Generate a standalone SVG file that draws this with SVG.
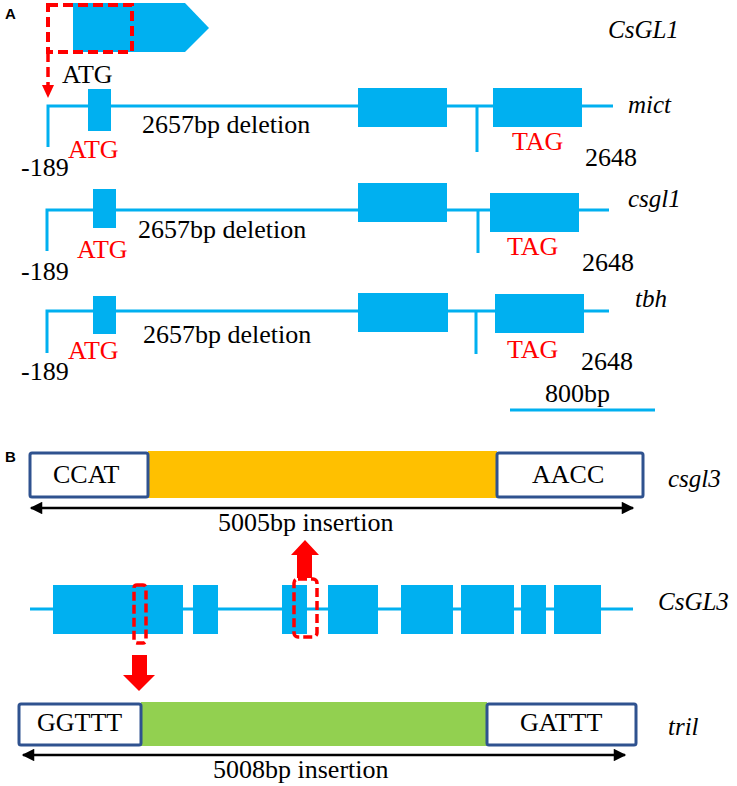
<svg xmlns="http://www.w3.org/2000/svg" width="737" height="786" viewBox="0 0 737 786">
<style>
.t{font-family:"Liberation Serif","Times New Roman",serif;font-size:26px;fill:#000}
.i{font-style:italic;font-size:25px}
.r{fill:#FF0000}
.p{font-family:"Liberation Sans",Arial,sans-serif;font-size:15px;font-weight:bold;fill:#000}
.ln{stroke:#00B0F0;stroke-width:3;fill:none}
.ex{fill:#00B0F0}
.rd{fill:none;stroke:#FF0000;stroke-width:4;stroke-dasharray:10,5}
.bx{fill:#fff;stroke:#2F528F;stroke-width:3}
.dbl{stroke:#000;stroke-width:2.5;fill:none;marker-start:url(#ah);marker-end:url(#ah)}
</style>
<defs>
<marker id="ah" viewBox="0 0 10 10" refX="9" refY="5" markerWidth="6" markerHeight="5" orient="auto-start-reverse" markerUnits="strokeWidth"><path d="M0,0L10,5L0,10z" fill="#000"/></marker>
</defs>
<rect width="737" height="786" fill="#fff"/>
<text class="p" x="5" y="19">A</text>
<text class="p" x="5" y="462">B</text>

<g id="CsGL1">
<polygon class="ex" points="73,3 185,3 209,28 185,52 73,52"/>
<rect class="rd" x="48" y="5" width="84" height="47"/>
<text class="t" x="62" y="83">ATG</text>
<text class="t i" x="608" y="38">CsGL1</text>
</g>

<g id="mict">
<path class="ln" d="M48,147V106H613M477,106V152"/>
<rect class="ex" x="88" y="89" width="23" height="42"/>
<rect class="ex" x="358" y="88" width="89" height="39"/>
<rect class="ex" x="493" y="88" width="89" height="39"/>
<text class="t" x="142" y="133">2657bp deletion</text>
<text class="t r" x="68" y="158">ATG</text>
<text class="t" x="21" y="176">-189</text>
<text class="t r" x="512" y="150">TAG</text>
<text class="t" x="585" y="166">2648</text>
<text class="t i" x="628" y="113">mict</text>
</g>

<g id="csgl1">
<path class="ln" d="M47,251V210H609M478,210V253"/>
<rect class="ex" x="93" y="189" width="23" height="39"/>
<rect class="ex" x="358" y="183" width="89" height="39"/>
<rect class="ex" x="490" y="193" width="89" height="39"/>
<text class="t" x="138" y="238">2657bp deletion</text>
<text class="t r" x="77" y="258">ATG</text>
<text class="t" x="21" y="280">-189</text>
<text class="t r" x="507" y="255">TAG</text>
<text class="t" x="582" y="271">2648</text>
<text class="t i" x="628" y="207">csgl1</text>
</g>

<g id="tbh">
<path class="ln" d="M47,353V311H609M476,311V354"/>
<rect class="ex" x="93" y="296" width="23" height="38"/>
<rect class="ex" x="358" y="293" width="90" height="39"/>
<rect class="ex" x="495" y="294" width="89" height="39"/>
<text class="t" x="143" y="343">2657bp deletion</text>
<text class="t r" x="68" y="359">ATG</text>
<text class="t" x="21" y="380">-189</text>
<text class="t r" x="507" y="358">TAG</text>
<text class="t" x="581" y="370">2648</text>
<text class="t i" x="635" y="307">tbh</text>
</g>

<g id="scale">
<path class="ln" d="M510,410H655"/>
<text class="t" x="545" y="402">800bp</text>
</g>

<g id="csgl3">
<rect x="148" y="451" width="349" height="47" fill="#FFC000"/>
<rect class="bx" x="30" y="453" width="118" height="44" rx="2"/>
<rect class="bx" x="497" y="453" width="146" height="44" rx="2"/>
<text class="t" x="53" y="483">CCAT</text>
<text class="t" x="532" y="483">AACC</text>
<text class="t i" x="668" y="487">csgl3</text>
<text class="t" x="218" y="531">5005bp insertion</text>
</g>

<g id="CsGL3">
<path class="ln" d="M30,609H633"/>
<rect class="ex" x="53" y="585" width="130" height="49"/>
<rect class="ex" x="193" y="585" width="25" height="49"/>
<rect class="ex" x="282" y="585" width="25" height="49"/>
<rect class="ex" x="328" y="585" width="50" height="49"/>
<rect class="ex" x="401" y="585" width="52" height="49"/>
<rect class="ex" x="461" y="585" width="53" height="49"/>
<rect class="ex" x="521" y="585" width="25" height="49"/>
<rect class="ex" x="554" y="585" width="47" height="49"/>
<rect class="rd" x="134" y="585" width="12" height="58" rx="3" style="stroke-width:3.5;stroke-dasharray:9,4"/>
<rect class="rd" x="294" y="579" width="23" height="58" rx="4" style="stroke-width:3.5;stroke-dasharray:9,4"/>
<text class="t i" x="658" y="610">CsGL3</text>
</g>

<g id="tril">
<rect x="141" y="702" width="346" height="44" fill="#92D050"/>
<rect class="bx" x="19" y="704" width="122" height="41" rx="2"/>
<rect class="bx" x="487" y="704" width="149" height="41" rx="2"/>
<text class="t" x="37" y="731">GGTTT</text>
<text class="t" x="520" y="731">GATTT</text>
<text class="t i" x="668" y="735">tril</text>
<text class="t" x="213" y="778">5008bp insertion</text>
</g>

<g id="connectors">
<path d="M48,52V86" class="rd" style="stroke-width:3.5"/>
<polygon points="42,85 54,85 48,98" fill="#FF0000"/>
<path class="dbl" d="M31,508H633"/>
<path class="dbl" d="M23,755H625"/>
<polygon points="297,578 312,578 312,555 319,555 305,540 291,555 297,555" fill="#FF0000"/>
<polygon points="132,655 147,655 147,675 155,675 139,691 123,675 132,675" fill="#FF0000"/>
</g>
</svg>
